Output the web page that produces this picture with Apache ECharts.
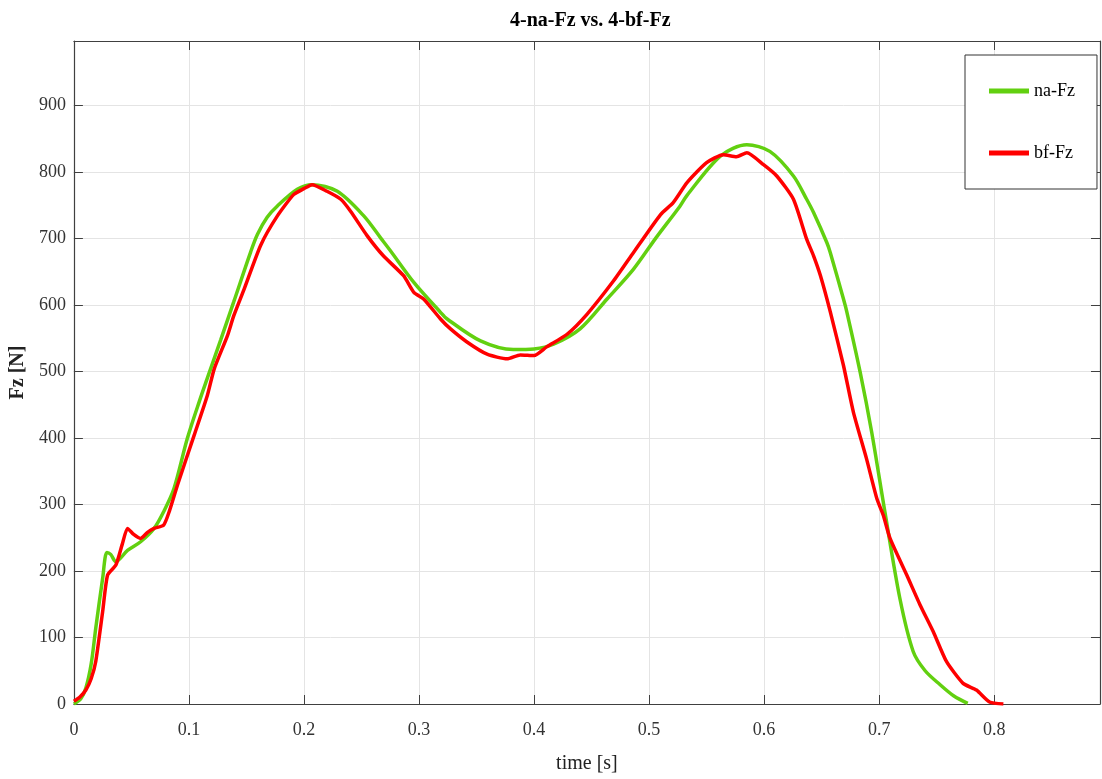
<!DOCTYPE html>
<html>
<head>
<meta charset="utf-8">
<script src="https://cdn.jsdelivr.net/npm/echarts@6/dist/echarts.min.js"></script>
<style>html,body{margin:0;padding:0;background:#fff}#c{width:1102px;height:779px}</style>
</head>
<body>
<div id="c"></div>
<script>
const titleText = '4-na-Fz vs. 4-bf-Fz';
const xName = 'time [s]';
const yName = 'Fz [N]';
const seriesNames = ['na-Fz', 'bf-Fz'];

const naTime = [0,0.006,0.0104,0.015,0.019,0.025,0.0287,0.032,0.0365,0.0466,0.058,0.0697,0.078,0.087,0.0987,0.110,0.116,0.1277,0.139,0.1537,0.1595,0.168,0.1769,0.1942,0.207,0.229,0.252,0.2666,0.275,0.2955,0.3187,0.3245,0.3535,0.382,0.4,0.417,0.44,0.4635,0.4865,0.506,0.527,0.533,0.562,0.585,0.605,0.6255,0.637,0.643,0.6545,0.6575,0.669,0.672,0.6835,0.6935,0.705,0.718,0.7296,0.74,0.753,0.765,0.777];
const naFz = [0,8,24,60,114,189,228,225,214,231,244,264,289,324,400,460,490,548,605,680,706,732,749,774,781,771,734,701,682,634,589,579,546,533,534,541,564,609,654,701,749,765,824,841,831,794,759,739,694,679,609,589,499,409,289,159,79,50,29,12,1];

const bfTime = [0,0.005,0.0104,0.015,0.019,0.025,0.0293,0.0365,0.042,0.0466,0.052,0.058,0.064,0.0697,0.078,0.083,0.09,0.1045,0.116,0.122,0.1335,0.139,0.148,0.1624,0.1769,0.191,0.2,0.207,0.22,0.232,0.2405,0.255,0.269,0.2866,0.2955,0.304,0.3187,0.3274,0.342,0.3592,0.3766,0.388,0.4,0.411,0.4287,0.446,0.469,0.4865,0.51,0.521,0.533,0.55,0.5645,0.576,0.585,0.5995,0.611,0.6255,0.637,0.643,0.649,0.6575,0.669,0.6776,0.689,0.698,0.7036,0.7095,0.724,0.7356,0.747,0.7585,0.773,0.7846,0.796,0.808];
const bfFz = [4,10,21,38,64,139,194,209,240,264,255,249,258,264,269,290,329,404,464,504,554,584,624,690,734,766,775,781,771,759,741,704,674,644,619,609,579,564,544,526,519,525,524,537,556,586,636,679,736,754,784,814,826,823,829,811,794,759,699,674,644,590,509,439,369,309,284,249,194,149,109,64,31,21,3,0];

const xMin = 0, xMax = 0.892, xStep = 0.1;
const yMin = 0, yMax = 997, yStep = 100;

const zip = (a, b) => a.map((t, i) => [t, b[i]]);
const FONT = 'Liberation Serif';
const axisColor = '#404040';

const chart = echarts.init(document.getElementById('c'));
chart.setOption({
  animation: false,
  backgroundColor: '#fff',
  title: {
    text: titleText, left: 505, top: 6,
    textStyle: { fontFamily: FONT, fontWeight: 'bold', fontSize: 20, color: '#000' }
  },
  legend: {
    orient: 'vertical', left: 965, top: 55,
    padding: [26, 22, 26, 24], itemGap: 42,
    itemWidth: 40, itemHeight: 5, icon: 'rect',
    borderColor: '#333', borderWidth: 1, backgroundColor: '#fff',
    textStyle: { fontFamily: FONT, fontSize: 18, color: '#000', lineHeight: 20 },
    data: seriesNames
  },
  grid: { left: 73, right: 2, top: 41, bottom: 73 },
  xAxis: [{
    type: 'value', min: xMin, max: xMax, interval: xStep,
    name: xName, nameLocation: 'middle', nameGap: 50,
    nameTextStyle: { fontFamily: FONT, fontSize: 20, color: '#222' },
    axisLine: { onZero: false, lineStyle: { color: axisColor, width: 1.2 } },
    axisTick: { inside: true, length: 9, lineStyle: { color: axisColor } },
    axisLabel: { fontFamily: FONT, fontSize: 18, color: '#333', margin: 17, showMaxLabel: false,
      formatter: v => String(+v.toFixed(1)) },
    splitLine: { show: true, lineStyle: { color: '#e4e4e4', width: 1 } }
  }, {
    type: 'value', position: 'top', min: xMin, max: xMax, interval: xStep,
    axisLine: { show: true, onZero: false, lineStyle: { color: axisColor, width: 1.2 } },
    axisTick: { show: true, inside: true, length: 9, lineStyle: { color: axisColor } },
    axisLabel: { show: false }, splitLine: { show: false }
  }],
  yAxis: [{
    type: 'value', min: yMin, max: yMax, interval: yStep,
    name: yName, nameLocation: 'middle', nameGap: 44,
    nameTextStyle: { fontFamily: FONT, fontSize: 20, color: '#222', fontWeight: 'bold' },
    axisLine: { show: true, onZero: false, lineStyle: { color: axisColor, width: 1.2 } },
    axisTick: { show: true, inside: true, length: 9, lineStyle: { color: axisColor } },
    axisLabel: { fontFamily: FONT, fontSize: 18, color: '#333', margin: 8, showMaxLabel: false },
    splitLine: { show: true, lineStyle: { color: '#e4e4e4', width: 1 } }
  }, {
    type: 'value', position: 'right', min: yMin, max: yMax, interval: yStep,
    axisLine: { show: true, onZero: false, lineStyle: { color: axisColor, width: 1.2 } },
    axisTick: { show: true, inside: true, length: 9, lineStyle: { color: axisColor } },
    axisLabel: { show: false }, splitLine: { show: false }
  }],
  series: [{
    name: seriesNames[0], type: 'line', data: zip(naTime, naFz),
    showSymbol: false, symbol: 'none', smooth: 0.3,
    lineStyle: { color: '#62d010', width: 3.5 }, itemStyle: { color: '#62d010' }
  }, {
    name: seriesNames[1], type: 'line', data: zip(bfTime, bfFz),
    showSymbol: false, symbol: 'none', smooth: 0.2,
    lineStyle: { color: '#ff0000', width: 3.5 }, itemStyle: { color: '#ff0000' }
  }]
});
</script>
</body>
</html>
